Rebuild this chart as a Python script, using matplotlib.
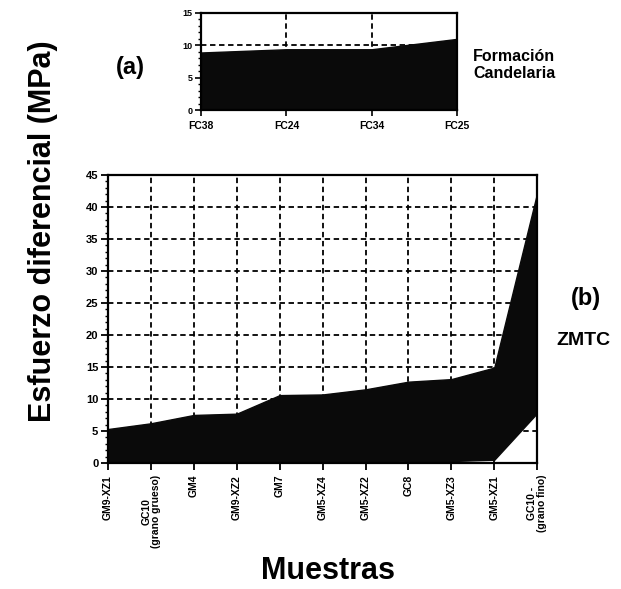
import matplotlib
matplotlib.use("Agg")
import matplotlib.pyplot as plt
from matplotlib.ticker import MultipleLocator

plt.rcParams['font.family'] = ['Liberation Sans', 'DejaVu Sans']
plt.rcParams['font.weight'] = 'bold'

# (a) Formacion Candelaria
top_samples = ["FC38", "FC24", "FC34", "FC25"]
top_values = [8.9, 9.4, 9.4, 11.0]

# (b) ZMTC
samples = ["GM9-XZ1", "GC10\n(grano grueso)", "GM4", "GM9-XZ2", "GM7", "GM5-XZ4",
           "GM5-XZ2", "GC8", "GM5-XZ3", "GM5-XZ1", "GC10 -\n(grano fino)"]
upper = [5.3, 6.2, 7.5, 7.7, 10.6, 10.7, 11.5, 12.7, 13.1, 14.9, 42.2]
lower = [0, 0, 0, 0, 0, 0, 0, 0.3, 0.3, 0.5, 7.8]

fig = plt.figure(figsize=(6.21, 5.89), dpi=100)

grid_kw = dict(color='black', linestyle=(0, (3, 2)), linewidth=1.3)

# top panel
axa = fig.add_axes([0.324, 0.813, 0.412, 0.165])
xa = range(len(top_samples))
axa.fill_between(xa, 0, top_values, color='#0a0a0a', zorder=1)
axa.set_xlim(0, len(top_samples) - 1)
axa.set_ylim(0, 15)
axa.set_yticks([0, 5, 10, 15])
axa.yaxis.set_minor_locator(MultipleLocator(1))
axa.set_xticks(list(xa))
axa.set_xticklabels(top_samples, fontsize=7.5, fontweight='bold')
axa.tick_params(axis='y', labelsize=6.5, pad=2)
axa.tick_params(axis='both', which='major', length=4, width=1.2)
axa.tick_params(axis='y', which='minor', length=2, width=1)
axa.grid(True, zorder=0, **grid_kw)
axa.set_axisbelow(True)
for s in axa.spines.values():
    s.set_linewidth(1.6)

# bottom panel
axb = fig.add_axes([0.174, 0.214, 0.691, 0.489])
xb = range(len(samples))
axb.fill_between(xb, lower, upper, color='#0a0a0a', zorder=1)
axb.set_xlim(0, len(samples) - 1)
axb.set_ylim(0, 45)
axb.set_yticks(range(0, 46, 5))
axb.yaxis.set_minor_locator(MultipleLocator(1))
axb.set_xticks(list(xb))
axb.set_xticklabels(samples, rotation=90, fontsize=7.5, fontweight='bold',
                    linespacing=0.95)
axb.tick_params(axis='y', labelsize=8, pad=2)
axb.tick_params(axis='both', which='major', length=5, width=1.3)
axb.tick_params(axis='y', which='minor', length=2.5, width=1)
axb.grid(True, zorder=0, **grid_kw)
axb.set_axisbelow(True)
for s in axb.spines.values():
    s.set_linewidth(1.6)

fig.text(0.069, 0.608, "Esfuerzo diferencial (MPa)", rotation=90,
         fontsize=22, fontweight='bold', ha='center', va='center')
fig.text(0.528, 0.03, "Muestras", fontsize=22, fontweight='bold',
         ha='center', va='center')
fig.text(0.21, 0.885, "(a)", fontsize=17, fontweight='bold',
         ha='center', va='center')
fig.text(0.762, 0.89, "Formación\nCandelaria", fontsize=11.5,
         fontweight='bold', ha='left', va='center', linespacing=1.15)
fig.text(0.943, 0.493, "(b)", fontsize=17, fontweight='bold',
         ha='center', va='center')
fig.text(0.94, 0.422, "ZMTC", fontsize=14, fontweight='bold',
         ha='center', va='center')

fig.savefig("out.png", dpi=100)
